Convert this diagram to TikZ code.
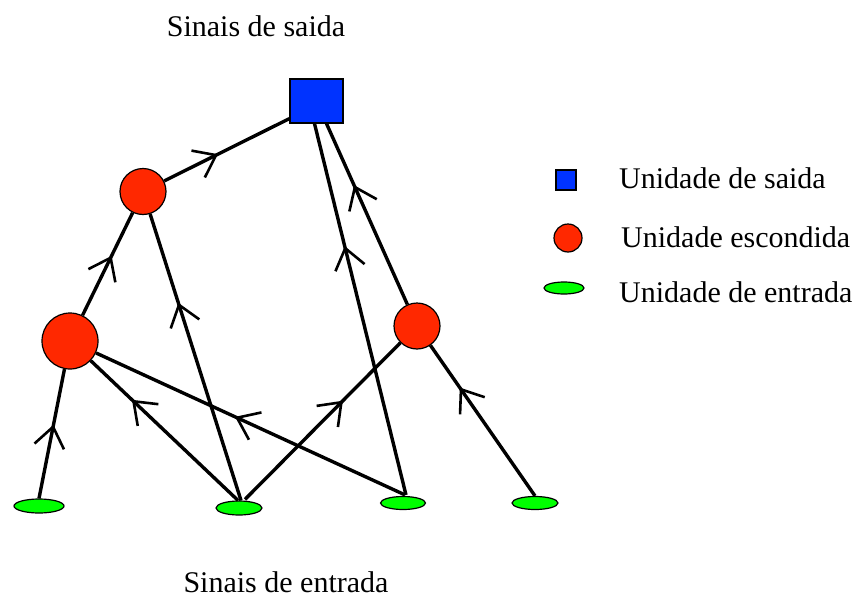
\documentclass[tikz,border=0pt]{standalone}
\usepackage{fontspec}
\setmainfont{Liberation Serif}
\usetikzlibrary{arrows.meta,decorations.markings,shapes.geometric}

\definecolor{hidred}{RGB}{255,40,0}
\definecolor{outblue}{RGB}{0,51,255}
\definecolor{ingreen}{RGB}{0,255,0}

\tikzset{
  outunit/.style={rectangle, draw=black, line width=1.2pt, fill=outblue, inner sep=0pt},
  hidunit/.style={circle, draw=black, line width=1.2pt, fill=hidred, inner sep=0pt},
  inunit/.style={ellipse, draw=black, line width=1.2pt, fill=ingreen, inner sep=0pt},
  link/.style={draw=black, line width=3.4pt},
  arrowat/.style={postaction={decorate}, decoration={markings,
      mark=at position #1 with {\arrow{Straight Barb[length=20pt,width=30pt,line width=2.6pt]}}}},
  caption/.style={font=\fontsize{30}{35}\selectfont, inner sep=0pt},
}

\begin{document}
\begin{tikzpicture}[x=1pt,y=-1pt]
  \useasboundingbox (0,0) rectangle (859,597);

  % units
  \node[outunit, minimum width=53pt, minimum height=44pt] (out) at (316.5,101) {};
  \node[hidunit, minimum size=46pt] (h1) at (143,191.5) {};
  \node[hidunit, minimum size=56pt] (h2) at (70,341) {};
  \node[hidunit, minimum size=46pt] (h3) at (417,326) {};
  \node[inunit, minimum width=50pt, minimum height=14pt] (i1) at (39,506) {};
  \node[inunit, minimum width=46pt, minimum height=14pt] (i2) at (239,508) {};
  \node[inunit, minimum width=45pt, minimum height=13pt] (i3) at (403,503) {};
  \node[inunit, minimum width=46pt, minimum height=13pt] (i4) at (535,503) {};

  % captions
  \node[caption, anchor=base] (top) at (256,36) {Sinais de saida};
  \node[caption, anchor=base] (bottom) at (286,592) {Sinais de entrada};

  % legend
  \node[outunit, minimum size=20pt] (lgout) at (566,180) {};
  \node[hidunit, minimum size=28pt] (lghid) at (568,238) {};
  \node[inunit, minimum width=40pt, minimum height=12pt] (lgin) at (564,288) {};
  \node[caption, anchor=base west] (tout) at (619,188) {Unidade de saida};
  \node[caption, anchor=base west] (thid) at (621,247) {Unidade escondida};
  \node[caption, anchor=base west] (tin) at (619,302) {Unidade de entrada};

  % connections
  \draw[link, arrowat=0.57] (i1.north) -- (h2);
  \draw[link, arrowat=0.72] ([xshift=-1pt]i2.north) -- (h2);
  \draw[link, arrowat=0.69] ([xshift=2pt]i2.north) -- (h1);
  \draw[link, arrowat=0.63] ([xshift=6pt,yshift=1pt]i2.north) -- (h3);
  \draw[link, arrowat=0.55] ([xshift=2pt,yshift=1pt]i3.north) -- (h2);
  \draw[link, arrowat=0.67] ([xshift=3pt,yshift=1pt]i3.north) -- ([xshift=-2pt]out.south);
  \draw[link, arrowat=0.72] (i4.north) -- (h3);
  \draw[link, arrowat=0.58] (h2) -- (h1);
  \draw[link, arrowat=0.66] (h3) -- ([xshift=10pt]out.south);
  \draw[link, arrowat=0.43] (h1) -- ([yshift=5pt]out.south west);
\end{tikzpicture}
\end{document}
